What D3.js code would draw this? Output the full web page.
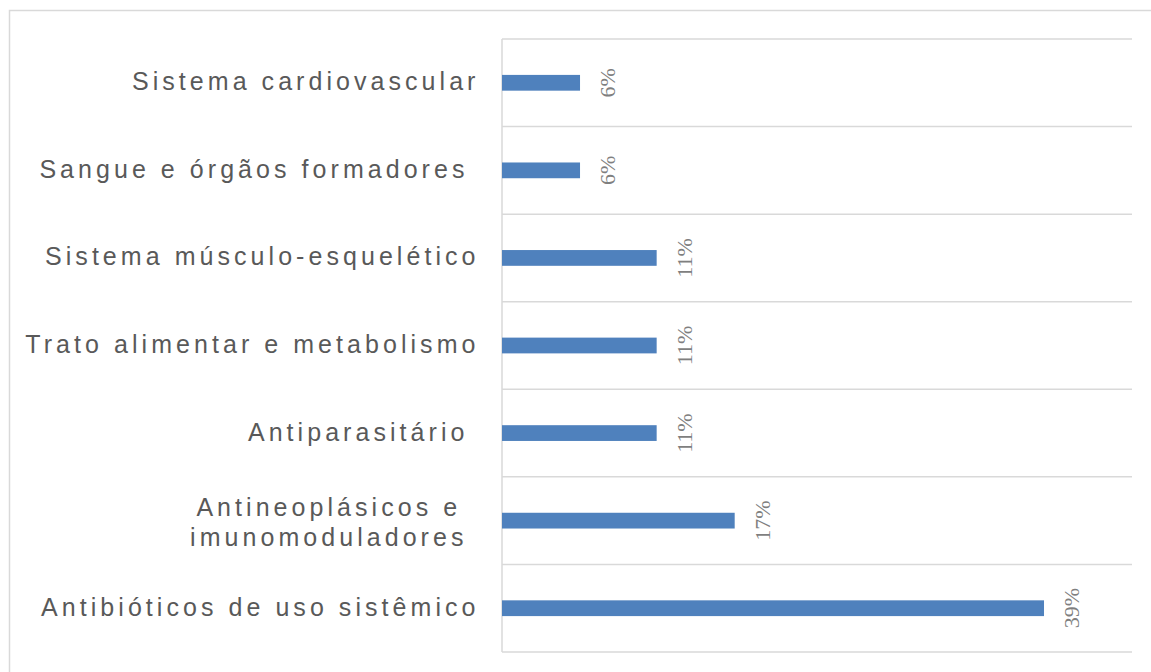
<!DOCTYPE html>
<html>
<head>
<meta charset="utf-8">
<script src="https://cdn.jsdelivr.net/npm/d3@7"></script>
<style>
  html, body { margin: 0; padding: 0; background: #fff; }
  svg { display: block; }
</style>
</head>
<body>
<svg id="chart" width="1151" height="672"></svg>
<script>
// Categories, top to bottom (lines of each label)
const categories = [
  ["Sistema cardiovascular"],
  ["Sangue e órgãos formadores "],
  ["Sistema músculo-esquelético"],
  ["Trato alimentar e metabolismo"],
  ["Antiparasitário "],
  ["Antineoplásicos e ", "imunomoduladores"],
  ["Antibióticos de uso sistêmico"]
];
const values = [0.056, 0.056, 0.111, 0.111, 0.111, 0.167, 0.389];
const xDomainMax = 0.45;

const svg = d3.select("#chart");
const W = 1151, H = 672;
const plot = { left: 502, right: 1132, top: 39, bottom: 652 };

// outer border
svg.append("rect")
  .attr("x", 9.5).attr("y", 10.5)
  .attr("width", W).attr("height", H)
  .attr("fill", "none").attr("stroke", "#d9d9d9").attr("stroke-width", 1.5);

const idx = d3.range(categories.length);
const y = d3.scaleBand().domain(idx).range([plot.top, plot.bottom]).paddingInner(0).paddingOuter(0);
const x = d3.scaleLinear().domain([0, xDomainMax]).range([plot.left, plot.right - 3]);

// horizontal gridlines at band boundaries
const bounds = idx.map(i => y(i)).concat([y(idx[idx.length - 1]) + y.bandwidth()]);
svg.append("g").selectAll("line").data(bounds).join("line")
  .attr("x1", plot.left).attr("x2", plot.right)
  .attr("y1", d => d).attr("y2", d => d)
  .attr("stroke", "#d9d9d9").attr("stroke-width", 1.5);

// vertical axis line
svg.append("line")
  .attr("x1", plot.left).attr("x2", plot.left)
  .attr("y1", plot.top).attr("y2", plot.bottom)
  .attr("stroke", "#d9d9d9").attr("stroke-width", 1.5);

// bars
const barH = y.bandwidth() * 0.18;
svg.append("g").selectAll("rect").data(values).join("rect")
  .attr("x", x(0))
  .attr("y", (d, i) => y(i) + y.bandwidth() / 2 - barH / 2)
  .attr("width", d => x(d) - x(0))
  .attr("height", barH)
  .attr("fill", "#4f81bd");

// value labels (rotated)
const fmt = d3.format(".0%");
svg.append("g").selectAll("text").data(values).join("text")
  .attr("transform", (d, i) => `translate(${x(d) + 35},${y(i) + y.bandwidth() / 2}) rotate(-90)`)
  .attr("text-anchor", "middle")
  .attr("font-family", "'Liberation Serif', 'Times New Roman', serif")
  .attr("font-size", 22)
  .attr("fill", "#7f7f7f")
  .text(d => fmt(d));

// category labels
const labelRight = 479.5;
const lineH = 30;
const lg = svg.append("g")
  .attr("font-family", "'Liberation Sans', Arial, sans-serif")
  .attr("font-size", 25)
  .attr("letter-spacing", "4.05px")
  .attr("fill", "#595959");

categories.forEach((lines, i) => {
  const cy = y(i) + y.bandwidth() / 2;
  const t = lg.append("text").style("white-space", "pre");
  if (lines.length === 1) {
    t.attr("x", labelRight).attr("y", cy + 7.5).attr("text-anchor", "end").text(lines[0]);
  } else {
    const tmp = lg.append("text");
    const widths = lines.map(s => { tmp.text(s.trim()); return tmp.node().getComputedTextLength(); });
    tmp.remove();
    const maxW = d3.max(widths);
    const cx = labelRight - 12 - maxW / 2;
    lines.forEach((s, k) => {
      t.append("tspan")
        .attr("x", cx)
        .attr("y", cy + 10 + (k - (lines.length - 1) / 2) * lineH)
        .attr("text-anchor", "middle")
        .text(s.trim());
    });
  }
});
</script>
</body>
</html>
